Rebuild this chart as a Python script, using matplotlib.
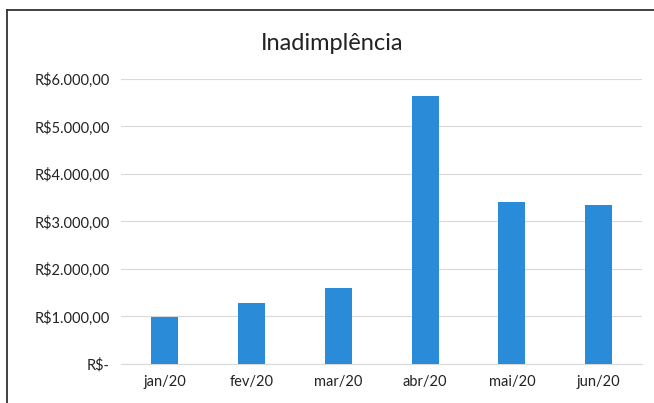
import matplotlib
matplotlib.use("Agg")
import matplotlib.pyplot as plt
from matplotlib.ticker import FuncFormatter, MultipleLocator
from matplotlib.lines import Line2D

categories = ["jan/20", "fev/20", "mar/20", "abr/20", "mai/20", "jun/20"]
values = [990, 1290, 1600, 5650, 3410, 3350]
title = "Inadimplência"

plt.rcParams['font.family'] = ['Lato', 'DejaVu Sans']

fig = plt.figure(figsize=(6.54, 4.03), dpi=100)
ax = fig.add_axes([0.185, 0.0968, 0.797, 0.7072])

ax.bar(range(len(categories)), values, width=0.31, color='#2A8CD8', zorder=3)
ax.set_xlim(-0.5, len(categories) - 0.5)
ax.set_ylim(0, 6000)
ax.yaxis.set_major_locator(MultipleLocator(1000))

def fmt(v, pos):
    if v == 0:
        return "R$-"
    s = f"{v:,.2f}".replace(",", "X").replace(".", ",").replace("X", ".")
    return "R$" + s

ax.yaxis.set_major_formatter(FuncFormatter(fmt))
ax.set_xticks(range(len(categories)))
ax.set_xticklabels(categories)
ax.grid(axis='y', color='#d9d9d9', linewidth=0.8, zorder=0)
for s in ['top', 'right', 'left']:
    ax.spines[s].set_visible(False)
ax.spines['bottom'].set_color('#d9d9d9')
ax.tick_params(axis='both', length=0, labelsize=10.5, colors='#222222')
ax.tick_params(axis='y', pad=8)
ax.tick_params(axis='x', pad=8)

fig.text(0.508, 0.893, title, ha='center', va='center', fontsize=17, color='#222222')

fig.lines.append(Line2D([0.011, 0.011], [0.0, 0.975], transform=fig.transFigure,
                        color='#333333', linewidth=1.3))
fig.lines.append(Line2D([0.011, 1.0], [0.975, 0.975], transform=fig.transFigure,
                        color='#333333', linewidth=1.3))

fig.savefig("out.png", dpi=100)
